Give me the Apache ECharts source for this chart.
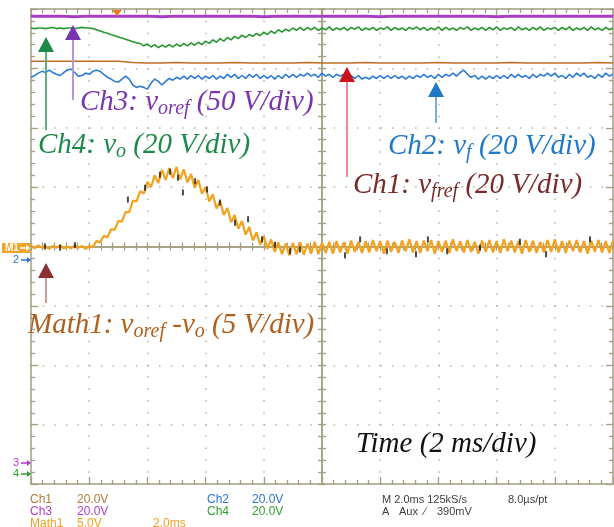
<!DOCTYPE html>
<html>
<head>
<meta charset="utf-8">
<script src="https://cdn.jsdelivr.net/npm/echarts@6/dist/echarts.min.js"></script>
<style>
html,body{margin:0;padding:0;background:#ffffff;}
#scope{width:614px;height:527px;}
</style>
</head>
<body>
<div id="scope"></div>
<script>
// Screen time runs from -10 ms to +10 ms (2 ms/div); traces are stored in
// vertical divisions measured from the centre graticule line.
const T_START = -10;
const STEP_FINE = 0.125;   // ms between samples of the rippled traces
const STEP_COARSE = 0.5;   // ms between samples of the flat traces

// Math1: v_oref - v_o (5 V/div)
const math1 = [
  0.01,-0.03,0.02,-0.02,0.00,-0.04,0.01,-0.02,0.02,-0.03,0.00,-0.03,0.02,-0.02,0.01,-0.04,0.01,
  -0.01,0.09,0.07,0.18,0.15,0.29,0.28,0.43,0.42,0.58,0.58,0.77,0.76,0.93,
  0.89,1.09,1.00,1.20,1.07,1.29,1.12,1.32,1.15,1.34,1.13,1.30,1.08,1.22,0.99,1.12,0.89,1.00,0.76,0.88,
  0.64,0.76,0.53,0.65,0.41,0.53,0.30,0.43,0.20,0.33,0.10,0.24,0.03,0.17,-0.04,0.12,-0.09,0.07,-0.13,0.05,-0.15,
  0.06,-0.13,0.07,-0.14,0.05,-0.12,0.08,-0.13,0.06,-0.11,0.08,-0.12,0.09,-0.10,0.07,-0.12,0.10,-0.09,0.08,-0.11,
  0.09,-0.10,0.11,-0.08,0.09,-0.12,0.10,-0.09,0.08,-0.11,0.10,-0.08,0.12,-0.10,0.09,-0.11,0.10,-0.08,0.11,-0.12,
  0.09,-0.09,0.10,-0.11,0.12,-0.08,0.09,-0.10,0.11,-0.09,0.08,-0.12,0.10,-0.09,0.11,-0.10,0.09,-0.11,0.12,-0.08,
  0.10,-0.10,0.09,-0.12,0.11,-0.09,0.10,-0.11,0.08,-0.10,0.11,-0.09,0.12,-0.10,0.09,-0.11,0.10,-0.08,0.11,-0.10,
  0.09,-0.12,0.10,-0.09,0.11,-0.10,0.09,-0.11,0.10
];

// dark specks riding on the Math1 trace: [time ms, divisions]
const math1Specks = [
  [-9.52, 0.00], [-9.00, -0.02], [-8.49, 0.02],
  [-6.67, 0.79], [-6.08, 0.99], [-5.57, 1.21], [-5.22, 1.26], [-4.95, 1.16], [-4.78, 0.91],
  [-4.36, 1.10], [-3.95, 0.96], [-3.51, 0.74], [-2.99, 0.40], [-2.54, 0.46], [-2.06, 0.12],
  [-1.62, 0.03], [-1.10, -0.08], [-0.76, -0.05], [0.79, -0.15], [1.31, 0.12], [2.23, -0.08],
  [3.23, -0.13], [3.64, 0.12], [4.30, -0.08], [5.43, -0.02], [6.80, 0.08], [7.70, -0.13], [9.21, 0.12]
];

// Ch4: v_o (20 V/div)
const ch4 = [
  3.68,3.67,3.68,3.68,3.67,3.68,3.69,3.67,3.68,3.67,3.68,3.68,3.67,3.68,3.69,3.68,3.68,
  3.67,3.65,3.63,3.61,3.59,3.57,3.55,3.53,3.51,3.49,3.47,3.45,3.43,3.42,
  3.38,3.41,3.36,3.40,3.35,3.39,3.36,3.40,3.36,3.41,3.37,3.42,3.38,3.43,3.39,3.44,3.40,3.46,3.42,3.48,
  3.44,3.50,3.46,3.52,3.48,3.54,3.50,3.56,3.52,3.57,3.54,3.59,3.55,3.61,3.57,3.63,3.59,3.65,3.61,3.66,
  3.63,3.68,3.64,3.69,3.64,3.69,
  3.65,3.69,3.64,3.68,3.65,3.70,3.64,3.68,3.65,3.69,3.64,3.69,3.66,3.70,3.64,3.68,3.65,3.69,3.64,3.68,
  3.66,3.70,3.64,3.69,3.65,3.68,3.64,3.69,3.66,3.70,3.65,3.69,3.64,3.68,3.65,3.70,3.64,3.69,3.65,3.68,
  3.64,3.69,3.66,3.70,3.64,3.68,3.65,3.69,3.64,3.69,3.65,3.70,3.64,3.68,3.66,3.69,3.64,3.70,3.65,3.68,
  3.64,3.69,3.65,3.70,3.64,3.68,3.66,3.69,3.64,3.69,3.65,3.70,3.64,3.68,3.65,3.69,3.64,3.70,3.65,3.68,
  3.64,3.69,3.65,3.68
];

// Ch2: v_f (20 V/div)
const ch2 = [
  2.85,2.88,2.92,2.95,2.93,2.97,2.93,2.90,2.88,2.93,2.97,2.99,2.93,2.87,2.88,2.92,2.90,
  2.95,2.97,2.95,2.90,2.85,2.82,2.78,2.77,2.82,2.87,2.82,2.72,2.68,2.70,2.68,2.65,2.75,2.82,2.78,
  2.72,2.78,2.83,2.80,2.85,2.82,2.87,2.82,2.88,2.83,2.88,2.82,2.87,2.83,2.88,2.82,2.87,2.83,2.90,2.85,
  2.90,2.83,2.88,2.83,2.90,2.85,2.90,2.83,2.88,2.83,2.88,2.82,2.88,2.83,2.90,2.85,2.90,2.85,2.90,2.87,
  2.92,2.87,2.90,2.85,2.92,2.87,2.90,2.85,2.90,2.87,2.90,2.83,2.88,2.83,2.88,2.82,2.85,2.82,2.87,2.83,
  2.88,2.83,2.88,2.83,2.88,2.83,2.87,2.82,2.87,2.83,2.88,2.85,2.90,2.85,2.88,2.83,2.90,2.85,2.90,2.87,
  2.92,2.87,2.93,2.97,2.90,2.85,2.88,2.82,2.87,2.82,2.87,2.83,2.88,2.83,2.88,2.83,2.90,2.85,2.90,2.85,
  2.88,2.83,2.90,2.85,2.90,2.87,2.92,2.87,2.92,2.85,2.88,2.83,2.90,2.85,2.92,2.87,2.92,2.85,2.88,2.83,
  2.90,2.85,2.92,2.87,2.90
];

// Ch1: v_fref (20 V/div), coarse samples
const ch1 = [
  3.12,3.12,3.12,3.12,3.12,3.12,3.12,3.10,3.09,3.09,3.10,3.09,3.09,3.09,3.10,3.09,3.09,3.09,3.09,3.10,
  3.09,3.09,3.09,3.10,3.09,3.09,3.09,3.09,3.10,3.09,3.09,3.09,3.09,3.10,3.09,3.09,3.09,3.09,3.09,3.10,3.09
];

// Ch3: v_oref (50 V/div), coarse samples
const ch3 = [
  3.88,3.88,3.88,3.87,3.88,3.88,3.88,3.88,3.88,3.87,3.88,3.88,3.88,3.88,3.88,3.88,3.87,3.88,3.88,3.88,
  3.88,3.88,3.88,3.88,3.87,3.88,3.88,3.88,3.88,3.88,3.88,3.88,3.87,3.88,3.88,3.88,3.88,3.88,3.88,3.88,3.88
];

// Channel read-outs under the graticule
const readouts = [
  { text: 'Ch1', col: 0, row: 0, color: '#b07840' },
  { text: '20.0V', col: 1, row: 0, color: '#b07840' },
  { text: 'Ch3', col: 0, row: 1, color: '#b03cc8' },
  { text: '20.0V', col: 1, row: 1, color: '#b03cc8' },
  { text: 'Math1', col: 0, row: 2, color: '#f0a020' },
  { text: '5.0V', col: 1, row: 2, color: '#f0a020' },
  { text: '2.0ms', col: 2, row: 2, color: '#f0a020' },
  { text: 'Ch2', col: 3, row: 0, color: '#3070d0' },
  { text: '20.0V', col: 4, row: 0, color: '#3070d0' },
  { text: 'Ch4', col: 3, row: 1, color: '#30a030' },
  { text: '20.0V', col: 4, row: 1, color: '#30a030' },
  { text: 'M 2.0ms 125kS/s', col: 5, row: 0, color: '#404040' },
  { text: '8.0\u00b5s/pt', col: 6, row: 0, color: '#404040' },
  { text: 'A', col: 5, row: 1, color: '#404040' },
  { text: 'Aux', col: 7, row: 1, color: '#404040' },
  { text: '\u2215', col: 8, row: 1, color: '#404040' },
  { text: '390mV', col: 9, row: 1, color: '#404040' }
];

const pairs = (vals, step) => vals.map((v, i) => [T_START + i * step, v]);

const frameColor = '#a39f80';
const dotColor = '#b9b59e';
const serif = "'Liberation Serif','Times New Roman',serif";
const sans = "'Liberation Sans',Arial,sans-serif";

function frameAxis(pos, isX) {
  return {
    type: 'value', min: isX ? -10 : -4, max: isX ? 10 : 4, interval: isX ? 2 : 1,
    position: pos,
    axisLine: { show: true, onZero: false, lineStyle: { color: frameColor, width: 1.5 } },
    axisTick: { show: true, inside: true, length: 7, lineStyle: { color: frameColor, width: 1.3 } },
    minorTick: { show: true, splitNumber: 5, length: 4, lineStyle: { color: frameColor, width: 1.3 } },
    axisLabel: { show: false },
    splitLine: { show: false }
  };
}
function centreAxis(pos, isX, otherIdx) {
  return {
    type: 'value', min: isX ? -10 : -4, max: isX ? 10 : 4, interval: isX ? 2 : 1,
    position: pos,
    axisLine: { show: true, onZero: true, onZeroAxisIndex: otherIdx, lineStyle: { color: frameColor, width: 1.5 } },
    axisTick: { show: true, inside: true, length: 4, lineStyle: { color: frameColor, width: 1.3 } },
    minorTick: { show: true, splitNumber: 5, length: 4, lineStyle: { color: frameColor, width: 1.3 } },
    axisLabel: { show: false },
    splitLine: { show: false }
  };
}

const xBottom = frameAxis('bottom', true);
xBottom.splitLine = { show: true, lineStyle: { color: dotColor, width: 1.5, type: [1.5, 10.35], dashOffset: 0 } };
const yLeft = frameAxis('left', false);
yLeft.splitLine = { show: true, lineStyle: { color: dotColor, width: 1.5, type: [1.5, 10.14], dashOffset: 0 } };

// annotation helpers
function arrow(x, yTip, yEnd, head, stem) {
  return [
    { type: 'line', z: 50, shape: { x1: x, y1: yTip + 10, x2: x, y2: yEnd }, style: { stroke: stem, lineWidth: 2 } },
    { type: 'polygon', z: 51, shape: { points: [[x, yTip], [x - 8, yTip + 15], [x + 8, yTip + 15]] }, style: { fill: head } }
  ];
}
function label(x, y, color, parts, size) {
  const text = parts.map(p => (p[1] ? '{s|' : '{m|') + p[0] + '}').join('');
  return {
    type: 'text', z: 60, x: x, y: y,
    style: {
      text: text, align: 'left', verticalAlign: 'middle',
      rich: {
        m: { fontFamily: serif, fontStyle: 'italic', fontSize: size, lineHeight: size + 4, fill: color },
        s: { fontFamily: serif, fontStyle: 'italic', fontSize: Math.round(size * 0.68), lineHeight: Math.round(size * 0.68), verticalAlign: 'bottom', fill: color }
      }
    }
  };
}
function marker(txt, y, color) {
  return [
    { type: 'text', z: 60, x: 13, y: y, style: { text: txt, fontFamily: sans, fontSize: 11, fill: color, align: 'left', verticalAlign: 'middle' } },
    { type: 'line', z: 60, shape: { x1: 21, y1: y, x2: 28, y2: y }, style: { stroke: color, lineWidth: 1.5 } },
    { type: 'polygon', z: 60, shape: { points: [[31, y], [27, y - 3], [27, y + 3]] }, style: { fill: color } }
  ];
}

const colX = [30, 77, 153, 207, 252, 382, 508, 399, 424, 437];
const rowY = [500, 512, 524];

const graphic = [].concat(
  arrow(46, 37, 130, '#1e8a4a', '#5daf80'),
  arrow(73, 25, 100, '#7a35b0', '#b596d6'),
  arrow(347, 67, 177, '#c8141e', '#eb8a90'),
  arrow(436, 82, 123, '#1f78c8', '#76b0e2'),
  arrow(46, 263, 303, '#8a3030', '#cf9a9a'),
  [
    label(80, 102, '#7a35ae', [['Ch3: v'], ['oref', 1], [' (50 V/div)']], 29),
    label(38, 145, '#1e8a4a', [['Ch4: v'], ['o', 1], [' (20 V/div)']], 29),
    label(388, 146, '#1f78c8', [['Ch2: v'], ['f', 1], [' (20 V/div)']], 29),
    label(353, 185, '#7a2a2a', [['Ch1: v'], ['fref', 1], [' (20 V/div)']], 29),
    label(28, 325, '#b0601e', [['Math1: v'], ['oref', 1], [' -v'], ['o', 1], [' (5 V/div)']], 29),
    label(356, 444, '#111111', [['Time (2 ms/div)']], 29),
    // trigger position marker
    { type: 'polygon', z: 55, shape: { points: [[112, 10], [122, 10], [117, 16]] }, style: { fill: '#f27a22' } },
    // Math1 reference marker
    { type: 'rect', z: 58, shape: { x: 2, y: 243, width: 28, height: 10 }, style: { fill: '#f3a325' } },
    { type: 'text', z: 60, x: 5, y: 248, style: { text: 'M1', fontFamily: sans, fontWeight: 'bold', fontSize: 10, fill: '#ffffff', align: 'left', verticalAlign: 'middle' } },
    { type: 'line', z: 60, shape: { x1: 20, y1: 248, x2: 27, y2: 248 }, style: { stroke: '#ffffff', lineWidth: 1.5 } },
    { type: 'polygon', z: 60, shape: { points: [[30, 248], [26, 245], [26, 251]] }, style: { fill: '#ffffff' } }
  ],
  marker('2', 260, '#2f6fd0'),
  marker('3', 463, '#b03cc8'),
  marker('4', 474, '#2f9a2f'),
  readouts.map(r => ({
    type: 'text', z: 60, x: colX[r.col], y: rowY[r.row],
    style: { text: r.text, fontFamily: sans, fontSize: r.col >= 5 ? 11 : 12, fill: r.color, align: 'left', verticalAlign: 'middle' }
  }))
);

const trace = (name, data, color, width, z) => ({
  name: name, type: 'line', xAxisIndex: 0, yAxisIndex: 0, data: data,
  showSymbol: false, symbol: 'none', z: z, animation: false,
  lineStyle: { color: color, width: width }
});

const chart = echarts.init(document.getElementById('scope'), null, { renderer: 'canvas' });
chart.setOption({
  backgroundColor: '#ffffff',
  animation: false,
  grid: { left: 31, top: 9, width: 582, height: 475, containLabel: false },
  xAxis: [xBottom, frameAxis('top', true), centreAxis('bottom', true, 0), centreAxis('top', true, 1)],
  yAxis: [yLeft, frameAxis('right', false), centreAxis('left', false, 0), centreAxis('right', false, 1)],
  series: [
    trace('Ch3', pairs(ch3, STEP_COARSE), '#a83cc4', 3, 3),
    trace('Ch4', pairs(ch4, STEP_FINE), '#2a962f', 1.6, 4),
    trace('Ch1', pairs(ch1, STEP_COARSE), '#bf6d22', 1.6, 5),
    trace('Ch2', pairs(ch2, STEP_FINE), '#2b7bd6', 1.6, 6),
    trace('Math1', pairs(math1, STEP_FINE), '#f2a21c', 2.2, 7),
    {
      name: 'Math1 specks', type: 'scatter', xAxisIndex: 0, yAxisIndex: 0, data: math1Specks,
      symbol: 'rect', symbolSize: [2, 6], z: 8, animation: false,
      itemStyle: { color: '#1c1c1c' }
    }
  ],
  graphic: graphic
});
</script>
</body>
</html>
